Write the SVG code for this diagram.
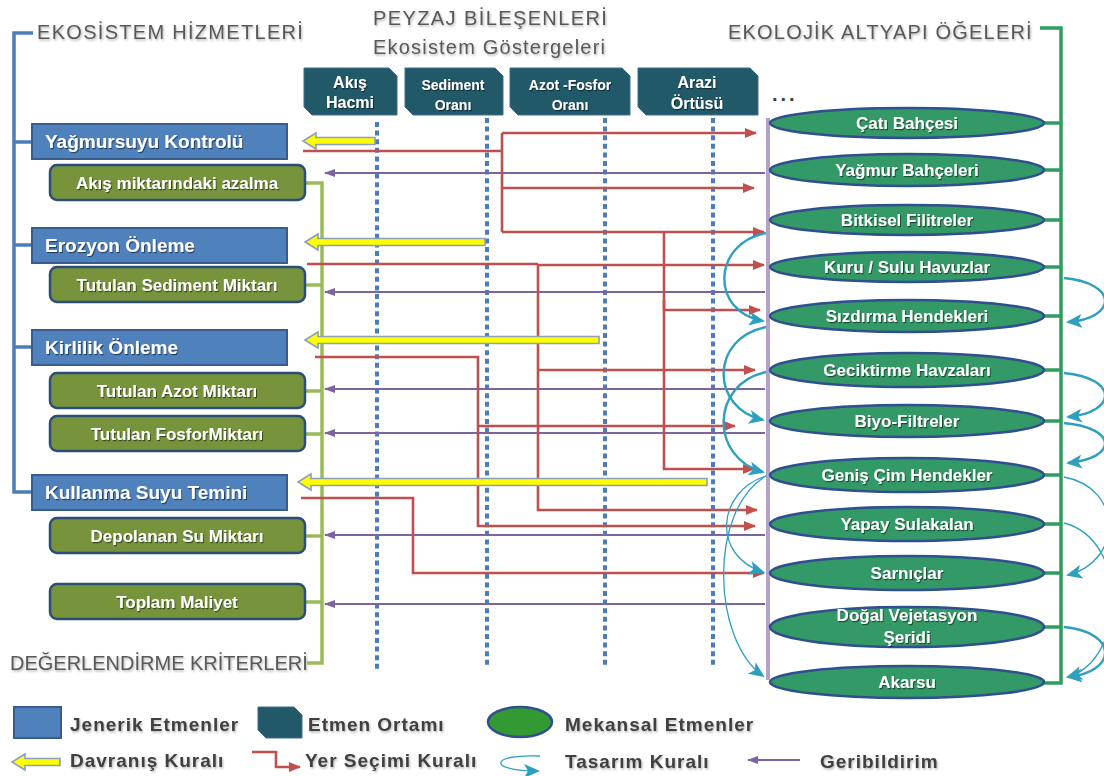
<svg xmlns="http://www.w3.org/2000/svg" width="1104" height="776" viewBox="0 0 1104 776">
<defs>
<filter id="ts" x="-5%" y="-20%" width="110%" height="150%"><feDropShadow dx="1" dy="1.2" stdDeviation="0.7" flood-color="#000" flood-opacity="0.5"/></filter>
<filter id="ts2" x="-5%" y="-20%" width="110%" height="150%"><feDropShadow dx="1" dy="1.5" stdDeviation="1" flood-color="#000" flood-opacity="0.3"/></filter>
<marker id="mr" markerUnits="userSpaceOnUse" markerWidth="12" markerHeight="10" refX="11" refY="5" orient="auto"><path d="M0,0 L12,5 L0,10 Z" fill="#c0504d"/></marker>
<marker id="mp" markerUnits="userSpaceOnUse" markerWidth="11" markerHeight="8" refX="10" refY="4" orient="auto"><path d="M0,0 L11,4 L0,8 Z" fill="#7f63a1"/></marker>
<marker id="mt" markerUnits="userSpaceOnUse" markerWidth="16" markerHeight="14" refX="14" refY="7" orient="auto"><path d="M0,0 L16,7 L0,14 L4,7 Z" fill="#2e9fbf"/></marker>
<style>
.title{font-family:"Liberation Sans",Arial,sans-serif;font-size:20px;fill:#595959;filter:url(#ts2)}
.dot{stroke:#4a7ebb;stroke-width:4;stroke-dasharray:5 3.6;fill:none}
.red{stroke:#c0504d;stroke-width:2.6;fill:none}
.redm{stroke:#c0504d;stroke-width:2.6;fill:none;marker-end:url(#mr)}
.pur{stroke:#7f63a1;stroke-width:2.2;fill:none;marker-end:url(#mp)}
.teal{stroke:#2e9fbf;stroke-width:2.4;fill:none;marker-end:url(#mt)}
.tealt{stroke:#2e9fbf;stroke-width:1.3;fill:none;marker-end:url(#mt)}
.yel{fill:#ffff00;stroke:#8aa0bd;stroke-width:1.6}
.gen{fill:#4f81bd;stroke:#385d8a;stroke-width:2}
.crit{fill:#77933c;stroke:#2c4d75;stroke-width:2.5}
.env{fill:#215968;stroke:#3f6f8f;stroke-width:1}
.sp{fill:#339966;stroke:#2f4f8f;stroke-width:2.5}
.wt{font-family:"Liberation Sans",Arial,sans-serif;font-weight:bold;fill:#ffffff;filter:url(#ts)}
.lg{font-family:"Liberation Sans",Arial,sans-serif;font-weight:bold;font-size:19px;fill:#404040;letter-spacing:1px;filter:url(#ts2)}
</style>
</defs>
<rect width="1104" height="776" fill="#ffffff"/>

<!-- titles -->
<text class="title" x="37" y="39" letter-spacing="1.3">EKOSİSTEM HİZMETLERİ</text>
<text class="title" x="373" y="25" letter-spacing="1.4">PEYZAJ BİLEŞENLERİ</text>
<text class="title" x="373" y="54" letter-spacing="1.2">Ekosistem Göstergeleri</text>
<text class="title" x="728" y="39" letter-spacing="1.2">EKOLOJİK ALTYAPI ÖĞELERİ</text>
<text class="title" x="10" y="670" font-size="16.5">DEĞERLENDİRME KRİTERLERİ</text>
<text x="772" y="101" font-family="Liberation Sans,Arial,sans-serif" font-weight="bold" font-size="20" fill="#404040" letter-spacing="3">...</text>

<!-- dotted indicator lines -->
<g id="indicator-lines">
<line class="dot" x1="377" y1="122" x2="377" y2="672"/>
<line class="dot" x1="487" y1="118" x2="487" y2="666"/>
<line class="dot" x1="605" y1="118" x2="605" y2="666"/>
<line class="dot" x1="713" y1="118" x2="713" y2="666"/>
</g>

<!-- brackets -->
<g id="brackets" fill="none" stroke-width="3.5">
<path d="M33,33 H14 V492 H32 M14,142 H32 M14,245 H32 M14,347 H32" stroke="#4a7ebb"/>
<path d="M305,183 H322 V663 H307 M305,285 H322 M305,391 H322 M305,434 H322 M305,536 H322 M305,602 H322" stroke="#9bbb59"/>
<path d="M1040,28 H1061 V683 H1043 M1043,123 H1061 M1043,170 H1061 M1043,220 H1061 M1043,267 H1061 M1043,316 H1061 M1043,370 H1061 M1043,421 H1061 M1043,475 H1061 M1043,524 H1061 M1043,573 H1061 M1043,627 H1061" stroke="#2e9e5e"/>
<line x1="768" y1="118" x2="768" y2="680" stroke="#b3a2c7" stroke-width="4"/>
</g>

<!-- connectors -->
<g id="connectors">
<!-- feedback -->
<path class="pur" d="M765,173 H325"/>
<path class="pur" d="M765,292 H325"/>
<path class="pur" d="M765,389 H325"/>
<path class="pur" d="M765,433 H325"/>
<path class="pur" d="M765,535 H325"/>
<path class="pur" d="M765,604 H325"/>
<!-- location rules -->
<path class="red" d="M303,151 H502 M502,133 V232 M664,232 V310"/>
<path class="redm" d="M502,133 H756"/>
<path class="redm" d="M502,188 H754"/>
<path class="redm" d="M502,232 H764"/>
<path class="redm" d="M664,300 V469 H754"/>
<path class="redm" d="M664,310 H760"/>
<path class="red" d="M307,264 H538"/>
<path class="redm" d="M538,265 H764"/>
<path class="redm" d="M538,264 V510 H757"/>
<path class="redm" d="M538,370 H755"/>
<path class="redm" d="M315,357 H478 V526 H755"/>
<path class="redm" d="M478,426 H735"/>
<path class="redm" d="M301,498 H413 V573 H764" stroke-width="3"/>
<!-- design rules left -->
<path class="teal" d="M766,233 C712,243 710,312 763,321"/>
<path class="teal" d="M766,327 C710,338 710,408 763,420"/>
<path class="teal" d="M766,372 C710,384 710,458 763,472"/>
<path class="tealt" d="M766,476 C716,492 712,556 763,572"/>
<path class="tealt" d="M766,476 C708,510 712,640 763,676"/>
<!-- design rules right -->
<path class="teal" d="M1064,278 C1118,283 1118,318 1068,322"/>
<path class="teal" d="M1064,373 C1118,378 1118,412 1068,417"/>
<path class="teal" d="M1064,423 C1118,428 1118,458 1068,463"/>
<path class="tealt" d="M1064,477 C1124,488 1122,562 1068,575"/>
<path class="tealt" d="M1064,523 C1130,540 1126,660 1068,677"/>
<path class="teal" d="M1064,627 C1118,632 1118,672 1068,677"/>
<!-- behaviour rules -->
<polygon class="yel" points="375,137.5 316,137.5 316,133 303,141 316,149 316,144.5 375,144.5"/>
<polygon class="yel" points="485,238.5 318,238.5 318,234 305,242 318,250 318,245.5 485,245.5"/>
<polygon class="yel" points="599,336.5 318,336.5 318,332 305,340 318,348 318,343.5 599,343.5"/>
<polygon class="yel" points="707,478.5 311,478.5 311,474 298,482 311,490 311,485.5 707,485.5"/>
</g>

<!-- generic agents -->
<g id="gen-yagmursuyu"><rect class="gen" x="32" y="124" width="255" height="35"/><text class="wt" x="45" y="148" font-size="19">Yağmursuyu Kontrolü</text></g>
<g id="gen-erozyon"><rect class="gen" x="32" y="228" width="255" height="35"/><text class="wt" x="45" y="252" font-size="19">Erozyon Önleme</text></g>
<g id="gen-kirlilik"><rect class="gen" x="32" y="330" width="255" height="35"/><text class="wt" x="45" y="354" font-size="19">Kirlilik Önleme</text></g>
<g id="gen-kullanma"><rect class="gen" x="32" y="475" width="255" height="35"/><text class="wt" x="45" y="499" font-size="19">Kullanma Suyu Temini</text></g>

<!-- criteria -->
<g id="crit-akis"><rect class="crit" x="50" y="165" width="255" height="35" rx="7"/><text class="wt" x="177" y="189" font-size="17" text-anchor="middle">Akış miktarındaki azalma</text></g>
<g id="crit-sediment"><rect class="crit" x="50" y="267" width="255" height="35" rx="7"/><text class="wt" x="177" y="291" font-size="17" text-anchor="middle">Tutulan Sediment Miktarı</text></g>
<g id="crit-azot"><rect class="crit" x="50" y="373" width="255" height="35" rx="7"/><text class="wt" x="177" y="397" font-size="17" text-anchor="middle">Tutulan Azot Miktarı</text></g>
<g id="crit-fosfor"><rect class="crit" x="50" y="416" width="255" height="35" rx="7"/><text class="wt" x="177" y="440" font-size="17" text-anchor="middle">Tutulan FosforMiktarı</text></g>
<g id="crit-depolanan"><rect class="crit" x="50" y="518" width="255" height="35" rx="7"/><text class="wt" x="177" y="542" font-size="17" text-anchor="middle">Depolanan Su Miktarı</text></g>
<g id="crit-maliyet"><rect class="crit" x="50" y="584" width="255" height="35" rx="7"/><text class="wt" x="177" y="608" font-size="17" text-anchor="middle">Toplam Maliyet</text></g>

<!-- environments -->
<g id="env-akis"><polygon class="env" points="304,68 389,68 397,76 397,115 312,115 304,107"/><text class="wt" x="350" y="88" font-size="16" text-anchor="middle">Akış</text><text class="wt" x="350" y="108" font-size="16" text-anchor="middle">Hacmi</text></g>
<g id="env-sediment"><polygon class="env" points="405,68 495,68 503,76 503,115 413,115 405,107"/><text class="wt" x="453" y="90" font-size="14" text-anchor="middle">Sediment</text><text class="wt" x="453" y="110" font-size="14" text-anchor="middle">Oranı</text></g>
<g id="env-azot"><polygon class="env" points="510,68 622,68 630,76 630,115 518,115 510,107"/><text class="wt" x="570" y="90" font-size="14" text-anchor="middle">Azot  -Fosfor</text><text class="wt" x="570" y="110" font-size="14" text-anchor="middle">Oranı</text></g>
<g id="env-arazi"><polygon class="env" points="638,68 750,68 758,76 758,115 646,115 638,107"/><text class="wt" x="697" y="88" font-size="16" text-anchor="middle">Arazi</text><text class="wt" x="697" y="109" font-size="16" text-anchor="middle">Örtüsü</text></g>

<!-- spatial agents -->
<g id="sp-cati"><ellipse class="sp" cx="907" cy="123" rx="137" ry="15"/><text class="wt" x="907" y="129" font-size="17" text-anchor="middle">Çatı Bahçesi</text></g>
<g id="sp-yagmur"><ellipse class="sp" cx="907" cy="170" rx="137" ry="16"/><text class="wt" x="907" y="176" font-size="17" text-anchor="middle">Yağmur Bahçeleri</text></g>
<g id="sp-bitkisel"><ellipse class="sp" cx="907" cy="220" rx="137" ry="15"/><text class="wt" x="907" y="226" font-size="17" text-anchor="middle">Bitkisel Filitreler</text></g>
<g id="sp-kuru"><ellipse class="sp" cx="907" cy="267" rx="137" ry="15"/><text class="wt" x="907" y="273" font-size="17" text-anchor="middle">Kuru / Sulu Havuzlar</text></g>
<g id="sp-sizdirma"><ellipse class="sp" cx="907" cy="316" rx="137" ry="16"/><text class="wt" x="907" y="322" font-size="17" text-anchor="middle">Sızdırma Hendekleri</text></g>
<g id="sp-geciktirme"><ellipse class="sp" cx="907" cy="370" rx="137" ry="17"/><text class="wt" x="907" y="376" font-size="17" text-anchor="middle">Geciktirme Havzaları</text></g>
<g id="sp-biyo"><ellipse class="sp" cx="907" cy="421" rx="137" ry="16"/><text class="wt" x="907" y="427" font-size="17" text-anchor="middle">Biyo-Filtreler</text></g>
<g id="sp-genis"><ellipse class="sp" cx="907" cy="475" rx="137" ry="17"/><text class="wt" x="907" y="481" font-size="17" text-anchor="middle">Geniş Çim Hendekler</text></g>
<g id="sp-yapay"><ellipse class="sp" cx="907" cy="524" rx="137" ry="17"/><text class="wt" x="907" y="530" font-size="17" text-anchor="middle">Yapay Sulakalan</text></g>
<g id="sp-sarnic"><ellipse class="sp" cx="907" cy="573" rx="137" ry="17"/><text class="wt" x="907" y="579" font-size="17" text-anchor="middle">Sarnıçlar</text></g>
<g id="sp-dogal"><ellipse class="sp" cx="907" cy="627" rx="137" ry="20"/><text class="wt" x="907" y="621" font-size="17" text-anchor="middle">Doğal Vejetasyon</text><text class="wt" x="907" y="643" font-size="17" text-anchor="middle">Şeridi</text></g>
<g id="sp-akarsu"><ellipse class="sp" cx="907" cy="682" rx="137" ry="16"/><text class="wt" x="907" y="688" font-size="17" text-anchor="middle">Akarsu</text></g>

<!-- legend -->
<g id="legend">
<rect class="gen" x="14" y="707" width="47" height="31"/>
<text class="lg" x="70" y="731">Jenerik Etmenler</text>
<polygon class="env" points="258,707 294,707 302,715 302,738 266,738 258,730" stroke="#385d8a" stroke-width="1.5"/>
<text class="lg" x="308" y="731">Etmen Ortamı</text>
<ellipse class="sp" cx="520" cy="722" rx="32" ry="15" style="fill:#339933"/>
<text class="lg" x="565" y="731">Mekansal Etmenler</text>
<polygon class="yel" points="60,758.5 25,758.5 25,754 12,762 25,770 25,765.5 60,765.5"/>
<text class="lg" x="70" y="767">Davranış Kuralı</text>
<path class="redm" d="M252,752 H276 V767 H300"/>
<text class="lg" x="305" y="767">Yer Seçimi Kuralı</text>
<path class="tealt" d="M540,756 C488,754 488,771 538,771"/>
<text class="lg" x="565" y="768">Tasarım Kuralı</text>
<path class="pur" d="M800,760 H748"/>
<text class="lg" x="820" y="768">Geribildirim</text>
</g>
</svg>
